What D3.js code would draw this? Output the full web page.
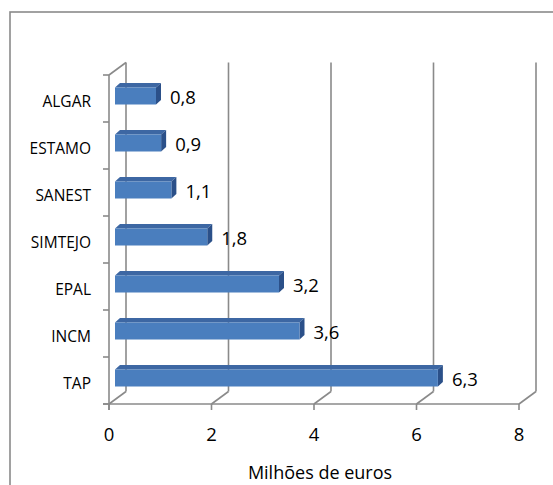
<!DOCTYPE html>
<html>
<head>
<meta charset="utf-8">
<script src="https://cdn.jsdelivr.net/npm/d3@7"></script>
<style>
  html, body { margin: 0; padding: 0; background: #fff; }
  svg { display: block; }
  text { font-family: "Open Sans", sans-serif; fill: #000; }
</style>
</head>
<body>
<svg id="chart" width="553" height="485"></svg>
<script>
const categories = ["ALGAR", "ESTAMO", "SANEST", "SIMTEJO", "EPAL", "INCM", "TAP"];
const values = [0.8, 0.9, 1.1, 1.8, 3.2, 3.6, 6.3];
const valueLabels = ["0,8", "0,9", "1,1", "1,8", "3,2", "3,6", "6,3"];
const xTicks = [0, 2, 4, 6, 8];
const axisTitle = "Milhões de euros";

const svg = d3.select("#chart");
const grid = "#8a8a8a";

// outer frame (extends beyond right/bottom edges)
svg.append("rect").attr("x", 10).attr("y", 12).attr("width", 600).attr("height", 600)
  .attr("fill", "none").attr("stroke", grid).attr("stroke-width", 1.6);

const x = d3.scaleLinear().domain([0, 8]).range([109, 519]);
const y = d3.scaleBand().domain(categories).range([75, 404]);
const depth = { dx: 17, dy: -12.5 };
const floorY = 404, topY = 75;

const g = svg.append("g");

// back wall vertical gridlines
g.selectAll(".vgrid").data(xTicks).enter().append("line")
  .attr("x1", d => x(d) + depth.dx).attr("x2", d => x(d) + depth.dx)
  .attr("y1", topY + depth.dy).attr("y2", floorY + depth.dy)
  .attr("stroke", grid).attr("stroke-width", 1.6);

// floor diagonals
g.selectAll(".fdiag").data(xTicks).enter().append("line")
  .attr("x1", d => x(d)).attr("x2", d => x(d) + depth.dx)
  .attr("y1", floorY).attr("y2", floorY + depth.dy)
  .attr("stroke", grid).attr("stroke-width", 1.6);

// left wall top diagonal
g.append("line").attr("x1", x(0)).attr("y1", topY).attr("x2", x(0) + depth.dx).attr("y2", topY + depth.dy)
  .attr("stroke", grid).attr("stroke-width", 1.6);

// front vertical axis
g.append("line").attr("x1", x(0)).attr("x2", x(0)).attr("y1", topY).attr("y2", floorY + 6)
  .attr("stroke", grid).attr("stroke-width", 1.6);
// front floor axis
g.append("line").attr("x1", x(0) - 6).attr("x2", x(8)).attr("y1", floorY).attr("y2", floorY)
  .attr("stroke", grid).attr("stroke-width", 1.6);

// y ticks (band boundaries)
const yBounds = categories.map(c => y(c)).concat([floorY]);
g.selectAll(".ytick").data(yBounds).enter().append("line")
  .attr("x1", x(0) - 6).attr("x2", x(0)).attr("y1", d => d).attr("y2", d => d)
  .attr("stroke", grid).attr("stroke-width", 1.6);
// x ticks
g.selectAll(".xtick").data(xTicks).enter().append("line")
  .attr("x1", d => x(d)).attr("x2", d => x(d)).attr("y1", floorY).attr("y2", floorY + 6)
  .attr("stroke", grid).attr("stroke-width", 1.6);

// bars (3D)
const barOff = { dx: 6 };
const barDepth = { dx: 5, dy: -4.5 };
const barH = 17;
const bars = g.selectAll(".bar").data(categories.map((c, i) => ({ c, v: values[i], lab: valueLabels[i] })))
  .enter().append("g");

bars.each(function(d) {
  const el = d3.select(this);
  const cy = y(d.c) + y.bandwidth() / 2 - 2.5;
  const y0 = cy - barH / 2, y1 = cy + barH / 2;
  const x0 = x(0) + barOff.dx, x1 = x(d.v) + barOff.dx;
  // top face
  el.append("path")
    .attr("d", `M${x0},${y0} L${x0 + barDepth.dx},${y0 + barDepth.dy} L${x1 + barDepth.dx},${y0 + barDepth.dy} L${x1},${y0} Z`)
    .attr("fill", "#3d67a3");
  // side face
  el.append("path")
    .attr("d", `M${x1},${y0} L${x1 + barDepth.dx},${y0 + barDepth.dy} L${x1 + barDepth.dx},${y1 + barDepth.dy} L${x1},${y1} Z`)
    .attr("fill", "#2b5089");
  // front face
  el.append("rect").attr("x", x0).attr("y", y0).attr("width", x1 - x0).attr("height", barH)
    .attr("fill", "#4a7ebe");
  // label
  el.append("text").attr("x", x1 + barDepth.dx + 9).attr("y", cy)
    .attr("dominant-baseline", "central").attr("font-size", 18.5).text(d.lab);
});

// category labels
g.selectAll(".clab").data(categories).enter().append("text")
  .attr("x", 91).attr("y", d => y(d) + y.bandwidth() / 2 + 2)
  .attr("text-anchor", "end").attr("dominant-baseline", "central")
  .attr("font-size", 15.5).text(d => d);

// x tick labels
g.selectAll(".xlab").data(xTicks).enter().append("text")
  .attr("x", d => x(d)).attr("y", 433)
  .attr("text-anchor", "middle").attr("dominant-baseline", "central")
  .attr("font-size", 18.5).text(d => d);

// axis title
g.append("text").attr("x", 320).attr("y", 472)
  .attr("text-anchor", "middle").attr("dominant-baseline", "central")
  .attr("font-size", 18).text(axisTitle);
</script>
</body>
</html>
